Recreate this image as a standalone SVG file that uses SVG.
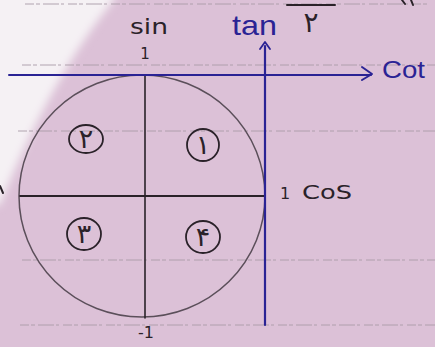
<svg xmlns="http://www.w3.org/2000/svg" width="435" height="347" viewBox="0 0 435 347">
<style>
.ink{fill:none;stroke:#2a2229;stroke-linecap:round}
.blue{fill:none;stroke:#2a2394;stroke-linecap:round;stroke-linejoin:round}
.rule{fill:none;stroke:#a99ba7;stroke-width:0.9;stroke-dasharray:9 2 4 3 16 2 3 4}
.tk{font-family:"DejaVu Sans","Liberation Sans",sans-serif;fill:#2a2229}
.tb{font-family:"Liberation Sans","DejaVu Sans",sans-serif;fill:#2a2394}
.num{font-family:"DejaVu Sans","Noto Sans",sans-serif;fill:#2a2229;font-size:27px;text-anchor:middle}
.qc{fill:none;stroke:#2a2229;stroke-width:1.8}
</style>
<defs>
<filter id="soft" x="-20%" y="-20%" width="140%" height="140%"><feGaussianBlur stdDeviation="4"/></filter>
</defs>
<rect width="435" height="347" fill="#dcc1d7"/>
<path d="M-20,-20 L118,-20 L114,0 C85,35 45,95 0,205 L-20,205 Z" fill="#f5f1f4" filter="url(#soft)"/>
<g id="rules">
<line class="rule" x1="25" y1="4" x2="430" y2="4"/>
<line class="rule" x1="22" y1="65" x2="435" y2="65"/>
<line class="rule" x1="18" y1="131" x2="435" y2="131"/>
<line class="rule" x1="22" y1="260" x2="435" y2="260"/>
<line class="rule" x1="20" y1="325" x2="435" y2="325"/>
</g>
<g id="circle">
<ellipse cx="142" cy="196" rx="123" ry="121" fill="none" stroke="#5b4f5a" stroke-width="1.5"/>
</g>
<g id="connectors">
<line class="ink" x1="20" y1="196" x2="265" y2="196" stroke-width="1.8"/>
<line class="ink" x1="145" y1="75" x2="145" y2="318" stroke-width="1.6"/>
<line class="blue" x1="9" y1="75" x2="371" y2="75" stroke-width="2"/>
<polyline class="blue" points="362,67 372,74 362,80" stroke-width="2"/>
<line class="blue" x1="265" y1="46" x2="265" y2="325" stroke-width="2.2"/>
<polyline class="blue" points="260,49 265,42 270,49" stroke-width="1.8"/>
<line class="ink" x1="287" y1="5" x2="335" y2="5" stroke-width="2"/>
<path class="ink" d="M402,0 L405,4 M411,0 L413,5" stroke-width="2"/>
<path class="ink" d="M0,186 L3,193" stroke-width="2"/>
</g>
<g id="labels">
<text class="tk" x="130" y="34" font-size="22" textLength="38" lengthAdjust="spacingAndGlyphs">sin</text>
<text class="tk" x="145" y="59" font-size="15" text-anchor="middle">1</text>
<text class="tb" x="232" y="35" font-size="28" textLength="45" lengthAdjust="spacingAndGlyphs">tan</text>
<text class="tk" x="311" y="32" font-size="28" text-anchor="middle">۲</text>
<text class="tb" x="382" y="78" font-size="23" textLength="43" lengthAdjust="spacingAndGlyphs">Cot</text>
<text class="tk" x="280" y="199" font-size="16">1</text>
<text class="tk" x="302" y="199" font-size="19" textLength="50" lengthAdjust="spacingAndGlyphs">CoS</text>
<text class="tk" x="146" y="338" font-size="16" text-anchor="middle">-1</text>
</g>
<g id="q2"><ellipse class="qc" cx="86" cy="139" rx="17" ry="14"/><text class="num" x="86" y="148">۲</text></g>
<g id="q1"><ellipse class="qc" cx="203" cy="145" rx="16" ry="16"/><text class="num" x="203" y="154">۱</text></g>
<g id="q3"><ellipse class="qc" cx="84" cy="234" rx="17" ry="16"/><text class="num" x="84" y="243">۳</text></g>
<g id="q4"><ellipse class="qc" cx="203" cy="237" rx="17" ry="16"/><text class="num" x="203" y="246">۴</text></g>
</svg>
